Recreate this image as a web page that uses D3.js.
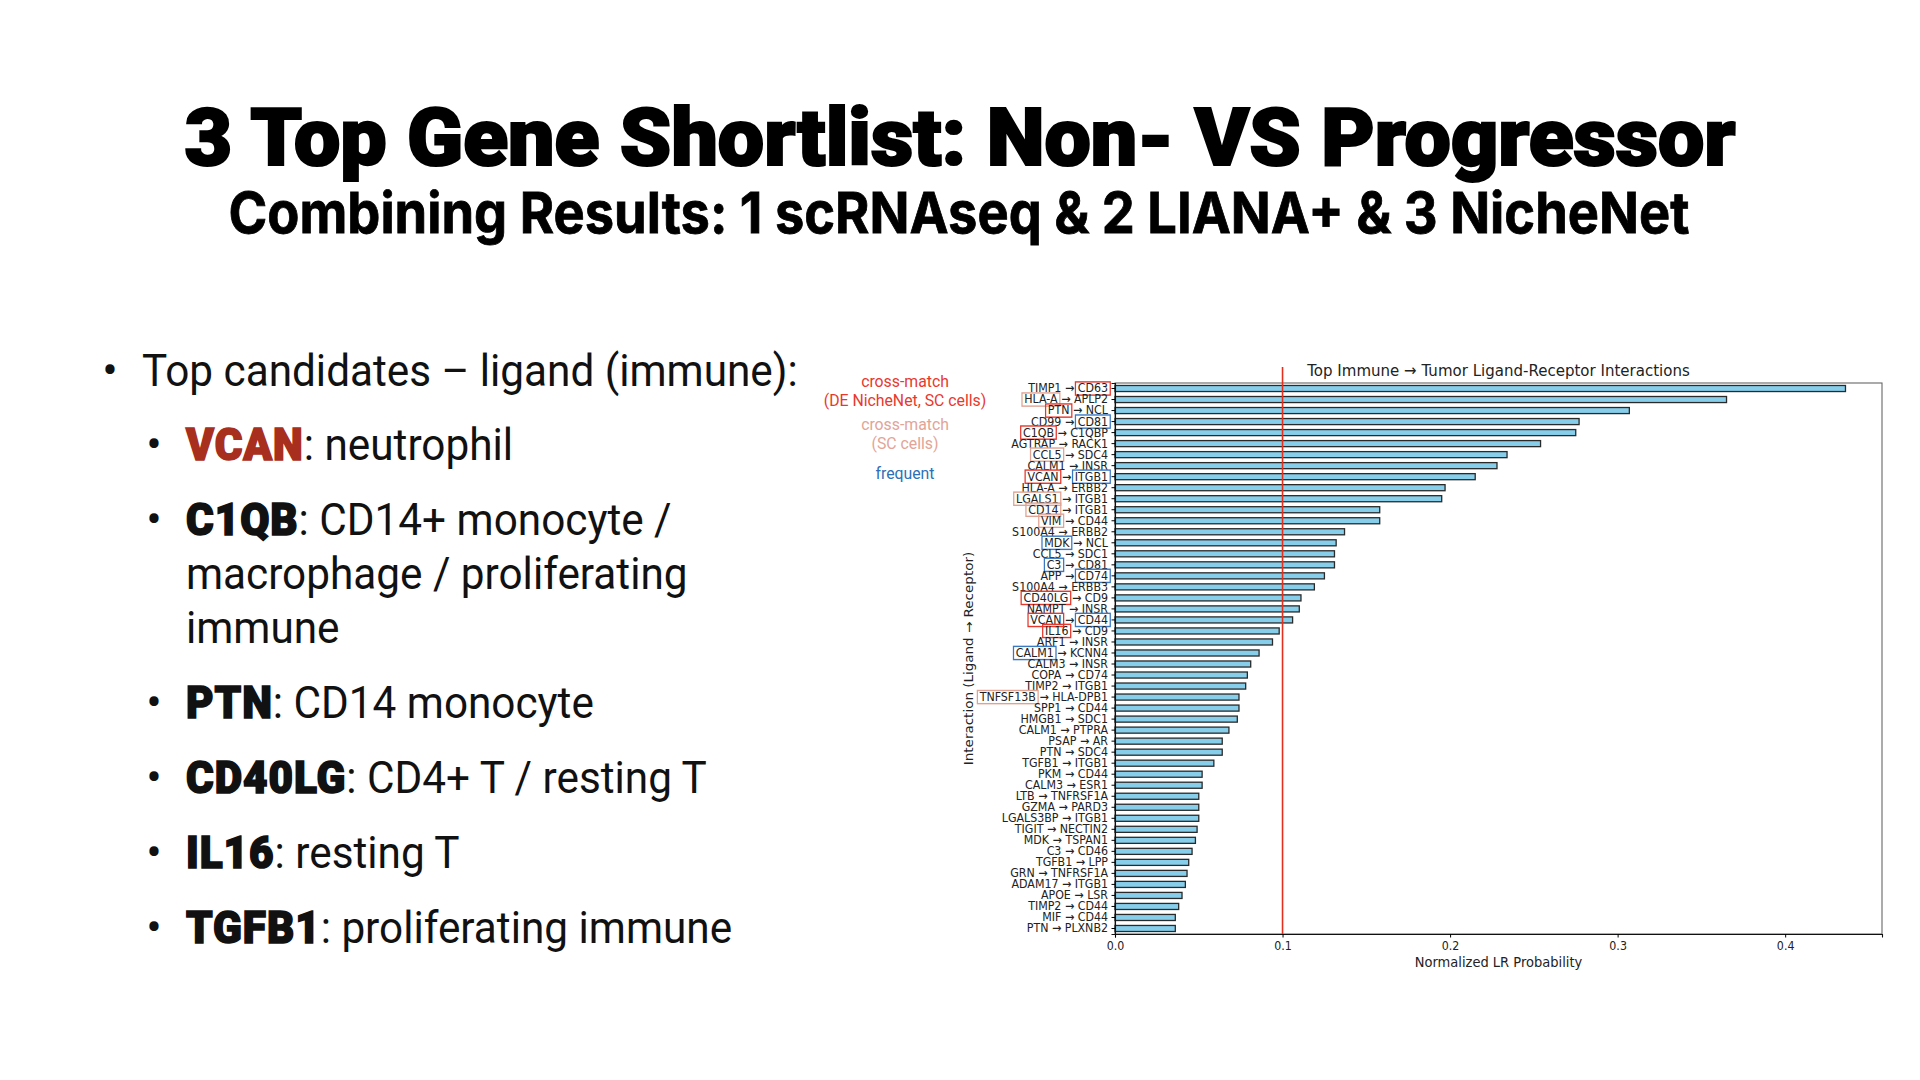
<!DOCTYPE html>
<html>
<head>
<meta charset="utf-8">
<script src="https://cdn.jsdelivr.net/npm/d3@7"></script>
<style>
  body { margin: 0; background: #fff; }
  svg { display: block; }
</style>
</head>
<body>
<div id="slide"></div>
<script>
// ligand -> receptor pairs, top to bottom
var ligands = ["TIMP1", "HLA-A", "PTN", "CD99", "C1QB", "AGTRAP", "CCL5", "CALM1", "VCAN", "HLA-A",
  "LGALS1", "CD14", "VIM", "S100A4", "MDK", "CCL5", "C3", "APP", "S100A4", "CD40LG",
  "NAMPT", "VCAN", "IL16", "ARF1", "CALM1", "CALM3", "COPA", "TIMP2", "TNFSF13B", "SPP1",
  "HMGB1", "CALM1", "PSAP", "PTN", "TGFB1", "PKM", "CALM3", "LTB", "GZMA", "LGALS3BP",
  "TIGIT", "MDK", "C3", "TGFB1", "GRN", "ADAM17", "APOE", "TIMP2", "MIF", "PTN"];
var receptors = ["CD63", "APLP2", "NCL", "CD81", "C1QBP", "RACK1", "SDC4", "INSR", "ITGB1", "ERBB2",
  "ITGB1", "ITGB1", "CD44", "ERBB2", "NCL", "SDC1", "CD81", "CD74", "ERBB3", "CD9",
  "INSR", "CD44", "CD9", "INSR", "KCNN4", "INSR", "CD74", "ITGB1", "HLA-DPB1", "CD44",
  "SDC1", "PTPRA", "AR", "SDC4", "ITGB1", "CD44", "ESR1", "TNFRSF1A", "PARD3", "ITGB1",
  "NECTIN2", "TSPAN1", "CD46", "LPP", "TNFRSF1A", "ITGB1", "LSR", "CD44", "CD44", "PLXNB2"];
var probs = [0.436, 0.365, 0.307, 0.277, 0.275, 0.254, 0.234, 0.228, 0.215, 0.197,
  0.195, 0.158, 0.158, 0.137, 0.132, 0.131, 0.131, 0.125, 0.119, 0.111,
  0.110, 0.106, 0.098, 0.094, 0.086, 0.081, 0.079, 0.078, 0.074, 0.074,
  0.073, 0.068, 0.064, 0.064, 0.059, 0.052, 0.052, 0.050, 0.050, 0.050,
  0.049, 0.048, 0.046, 0.044, 0.043, 0.042, 0.040, 0.038, 0.036, 0.036];
// boxes round names: de = cross-match (DE NicheNet), sc = cross-match (SC cells), fq = frequent
var ligandMark = ["", "sc", "de", "", "de", "", "sc", "", "de", "",
  "sc", "sc", "sc", "", "fq", "", "fq", "", "", "de",
  "", "de", "de", "", "fq", "", "", "", "sc", "",
  "", "", "", "", "", "", "", "", "", "",
  "", "", "", "", "", "", "", "", "", ""];
var receptorMark = ["de", "", "", "fq", "", "", "", "", "fq", "",
  "", "", "", "", "", "", "", "fq", "", "",
  "", "fq", "", "", "", "", "", "", "", "",
  "", "", "", "", "", "", "", "", "", "",
  "", "", "", "", "", "", "", "", "", ""];
var xTicks = [0, 0.1, 0.2, 0.3, 0.4];
var cutoff = 0.1;

var legendKeys = ["de", "sc", "fq"];
var legendLines = [["cross-match", "(DE NicheNet, SC cells)"], ["cross-match", "(SC cells)"], ["frequent"]];

var slideTitle = "3 Top Gene Shortlist: Non- VS Progressor";
var slideSubtitle = "Combining Results: 1 scRNAseq & 2 LIANA+ & 3 NicheNet";
var topBullet = "Top candidates \u2013 ligand (immune):";
var genes = ["VCAN", "C1QB", "PTN", "CD40LG", "IL16", "TGFB1"];
var cellTypes = [["neutrophil"], ["CD14+ monocyte /", "macrophage / proliferating", "immune"],
  ["CD14 monocyte"], ["CD4+ T / resting T"], ["resting T"], ["proliferating immune"]];

var markColor = {de: "#e8362b", sc: "#e0a393", fq: "#3a78c2"};
var legendColor = {de: "#e8392e", sc: "#e3a497", fq: "#2d6fb8"};

var svg = d3.select("#slide")
  .append("svg")
    .attr("width", 1920)
    .attr("height", 1080);

svg.append("rect").attr("width", 1920).attr("height", 1080).attr("fill", "#fff");

// slide titles (stroke thickens the face towards the black weight)
svg.append("text")
    .attr("x", 960).attr("y", 165)
    .attr("text-anchor", "middle")
    .attr("font-family", "Roboto, Inter, sans-serif")
    .attr("font-weight", 900)
    .attr("font-size", 80)
    .attr("stroke", "#000")
    .attr("stroke-width", 2.2)
    .attr("textLength", 1551)
    .attr("lengthAdjust", "spacingAndGlyphs")
    .text(slideTitle);

svg.append("text")
    .attr("x", 959).attr("y", 233)
    .attr("text-anchor", "middle")
    .attr("font-family", "Inter, Roboto, sans-serif")
    .attr("font-weight", 700)
    .attr("font-size", 57)
    .attr("stroke", "#000")
    .attr("stroke-width", 0.8)
    .attr("textLength", 1461)
    .attr("lengthAdjust", "spacingAndGlyphs")
    .text(slideSubtitle);

// bullet list
var body = svg.append("g")
    .attr("font-family", "Roboto, sans-serif")
    .attr("font-size", 44)
    .attr("fill", "#111");

body.append("text").attr("x", 110).attr("y", 386).attr("text-anchor", "middle").attr("font-size", 46).text("\u2022");
var first = body.append("text").attr("x", 142).attr("y", 386).text(topBullet);
// squeeze to the narrow slide face
var sx = 656 / first.node().getComputedTextLength();
first.attr("transform", "translate(142,0) scale(" + sx + ",1) translate(-142,0)");

var yLine = 460;
genes.forEach(function(g, i) {
  body.append("text").attr("x", 154).attr("y", yLine).attr("text-anchor", "middle").attr("font-size", 46).text("\u2022");
  cellTypes[i].forEach(function(line, j) {
    var t = body.append("text")
        .attr("x", 186).attr("y", yLine)
        .attr("transform", "translate(186,0) scale(" + sx + ",1) translate(-186,0)");
    if (j == 0) {
      var c = i == 0 ? "#a82e1d" : "#111";
      t.append("tspan")
          .attr("font-weight", 900)
          .attr("font-family", "Roboto, Inter, sans-serif")
          .attr("fill", c)
          .attr("stroke", c)
          .attr("stroke-width", 1.6)
          .attr("letter-spacing", 1)
          .text(g);
      t.append("tspan").text(": " + line);
    } else {
      t.text(line);
    }
    yLine += (j < cellTypes[i].length - 1) ? 54 : 75;
  });
});

// legend for the label boxes
var legend = svg.append("g")
    .attr("font-family", "Roboto, sans-serif")
    .attr("font-size", 15.8)
    .attr("text-anchor", "middle");
var legendY = [[387, 406], [430, 449], [479]];
legendKeys.forEach(function(k, i) {
  legendLines[i].forEach(function(s, j) {
    legend.append("text")
        .attr("x", 905).attr("y", legendY[i][j])
        .attr("fill", legendColor[k])
        .text(s);
  });
});

// ---- the bar chart ----
var plot = {left: 1115, right: 1882, top: 383, bottom: 934};
var chartFont = "'DejaVu Sans', sans-serif";
var squeeze = 0.9;

var x = d3.scaleLinear()
  .domain([0, d3.max(probs) * 1.05])
  .range([plot.left, plot.right]);

var y = d3.scaleBand()
  .domain(d3.range(probs.length))
  .range([plot.top, plot.bottom])
  .paddingInner(0.45)
  .paddingOuter(0.225);

// frame
svg.append("rect")
    .attr("x", plot.left).attr("y", plot.top)
    .attr("width", plot.right - plot.left)
    .attr("height", plot.bottom - plot.top)
    .attr("fill", "none")
    .attr("stroke", "#666")
    .attr("stroke-width", 1.1);

svg.selectAll(".bar")
  .data(probs)
  .enter()
  .append("rect")
    .attr("class", "bar")
    .attr("x", x(0))
    .attr("y", function(d, i) { return y(i); })
    .attr("width", function(d) { return x(d) - x(0); })
    .attr("height", y.bandwidth())
    .attr("fill", "#87ceeb")
    .attr("stroke", "#2a2a2a")
    .attr("stroke-width", 1.3);

// cutoff line
svg.append("line")
    .attr("x1", x(cutoff)).attr("x2", x(cutoff))
    .attr("y1", 367).attr("y2", plot.bottom)
    .attr("stroke", "#e2321f")
    .attr("stroke-width", 1.6);

// X axis
var xAxis = svg.append("g")
    .attr("transform", "translate(0," + plot.bottom + ")")
    .call(d3.axisBottom(x).tickValues(xTicks).tickFormat(d3.format(".1f")).tickSize(3.5).tickPadding(3.5));
xAxis.select(".domain").attr("stroke", "#111").attr("stroke-width", 1.1);
xAxis.selectAll("text")
    .attr("font-family", chartFont)
    .attr("font-size", 12.3)
    .attr("fill", "#222")
    .attr("transform", "scale(" + squeeze + ",1)");

// Y axis with pair labels
var yAxis = svg.append("g")
    .attr("transform", "translate(" + plot.left + ",0)")
    .call(d3.axisLeft(y)
      .tickSize(3.5).tickPadding(3.5)
      .tickFormat(function(i) { return ligands[i] + " \u2192 " + receptors[i]; }));
yAxis.select(".domain").attr("stroke", "#111").attr("stroke-width", 1.1);

yAxis.selectAll(".tick").each(function(i) {
  var tick = d3.select(this);
  var text = tick.select("text")
      .attr("font-family", chartFont)
      .attr("font-size", 12.3)
      .attr("fill", "#222")
      .attr("x", -7 / squeeze)
      .attr("transform", "scale(" + squeeze + ",1)");
  var node = text.node();
  var label = node.textContent;
  var total = node.getComputedTextLength();
  var end = -7 / squeeze;
  var start = end - total;
  var boxes = [];
  if (ligandMark[i]) {
    boxes.push({x: start, w: node.getSubStringLength(0, ligands[i].length), c: markColor[ligandMark[i]]});
  }
  if (receptorMark[i]) {
    var rw = node.getSubStringLength(label.length - receptors[i].length, receptors[i].length);
    boxes.push({x: end - rw, w: rw, c: markColor[receptorMark[i]]});
  }
  boxes.forEach(function(b) {
    tick.append("rect")
        .attr("transform", "scale(" + squeeze + ",1)")
        .attr("x", b.x - 2.5)
        .attr("y", -6.6)
        .attr("width", b.w + 5)
        .attr("height", 13.2)
        .attr("fill", "none")
        .attr("stroke", b.c)
        .attr("stroke-width", 1.4);
  });
});

// titles of the chart
svg.append("text")
    .attr("transform", "translate(" + (plot.left + plot.right) / 2 + ",376) scale(" + squeeze + ",1)")
    .attr("text-anchor", "middle")
    .attr("font-family", chartFont)
    .attr("font-size", 16.7)
    .attr("fill", "#222")
    .text("Top Immune \u2192 Tumor Ligand-Receptor Interactions");

svg.append("text")
    .attr("transform", "translate(" + (plot.left + plot.right) / 2 + ",967) scale(" + squeeze + ",1)")
    .attr("text-anchor", "middle")
    .attr("font-family", chartFont)
    .attr("font-size", 14.5)
    .attr("fill", "#222")
    .text("Normalized LR Probability");

svg.append("text")
    .attr("transform", "translate(973," + (plot.top + plot.bottom) / 2 + ") rotate(-90) scale(1," + squeeze + ")")
    .attr("text-anchor", "middle")
    .attr("font-family", chartFont)
    .attr("font-size", 13.5)
    .attr("fill", "#222")
    .text("Interaction (Ligand \u2192 Receptor)");
</script>
</body>
</html>
